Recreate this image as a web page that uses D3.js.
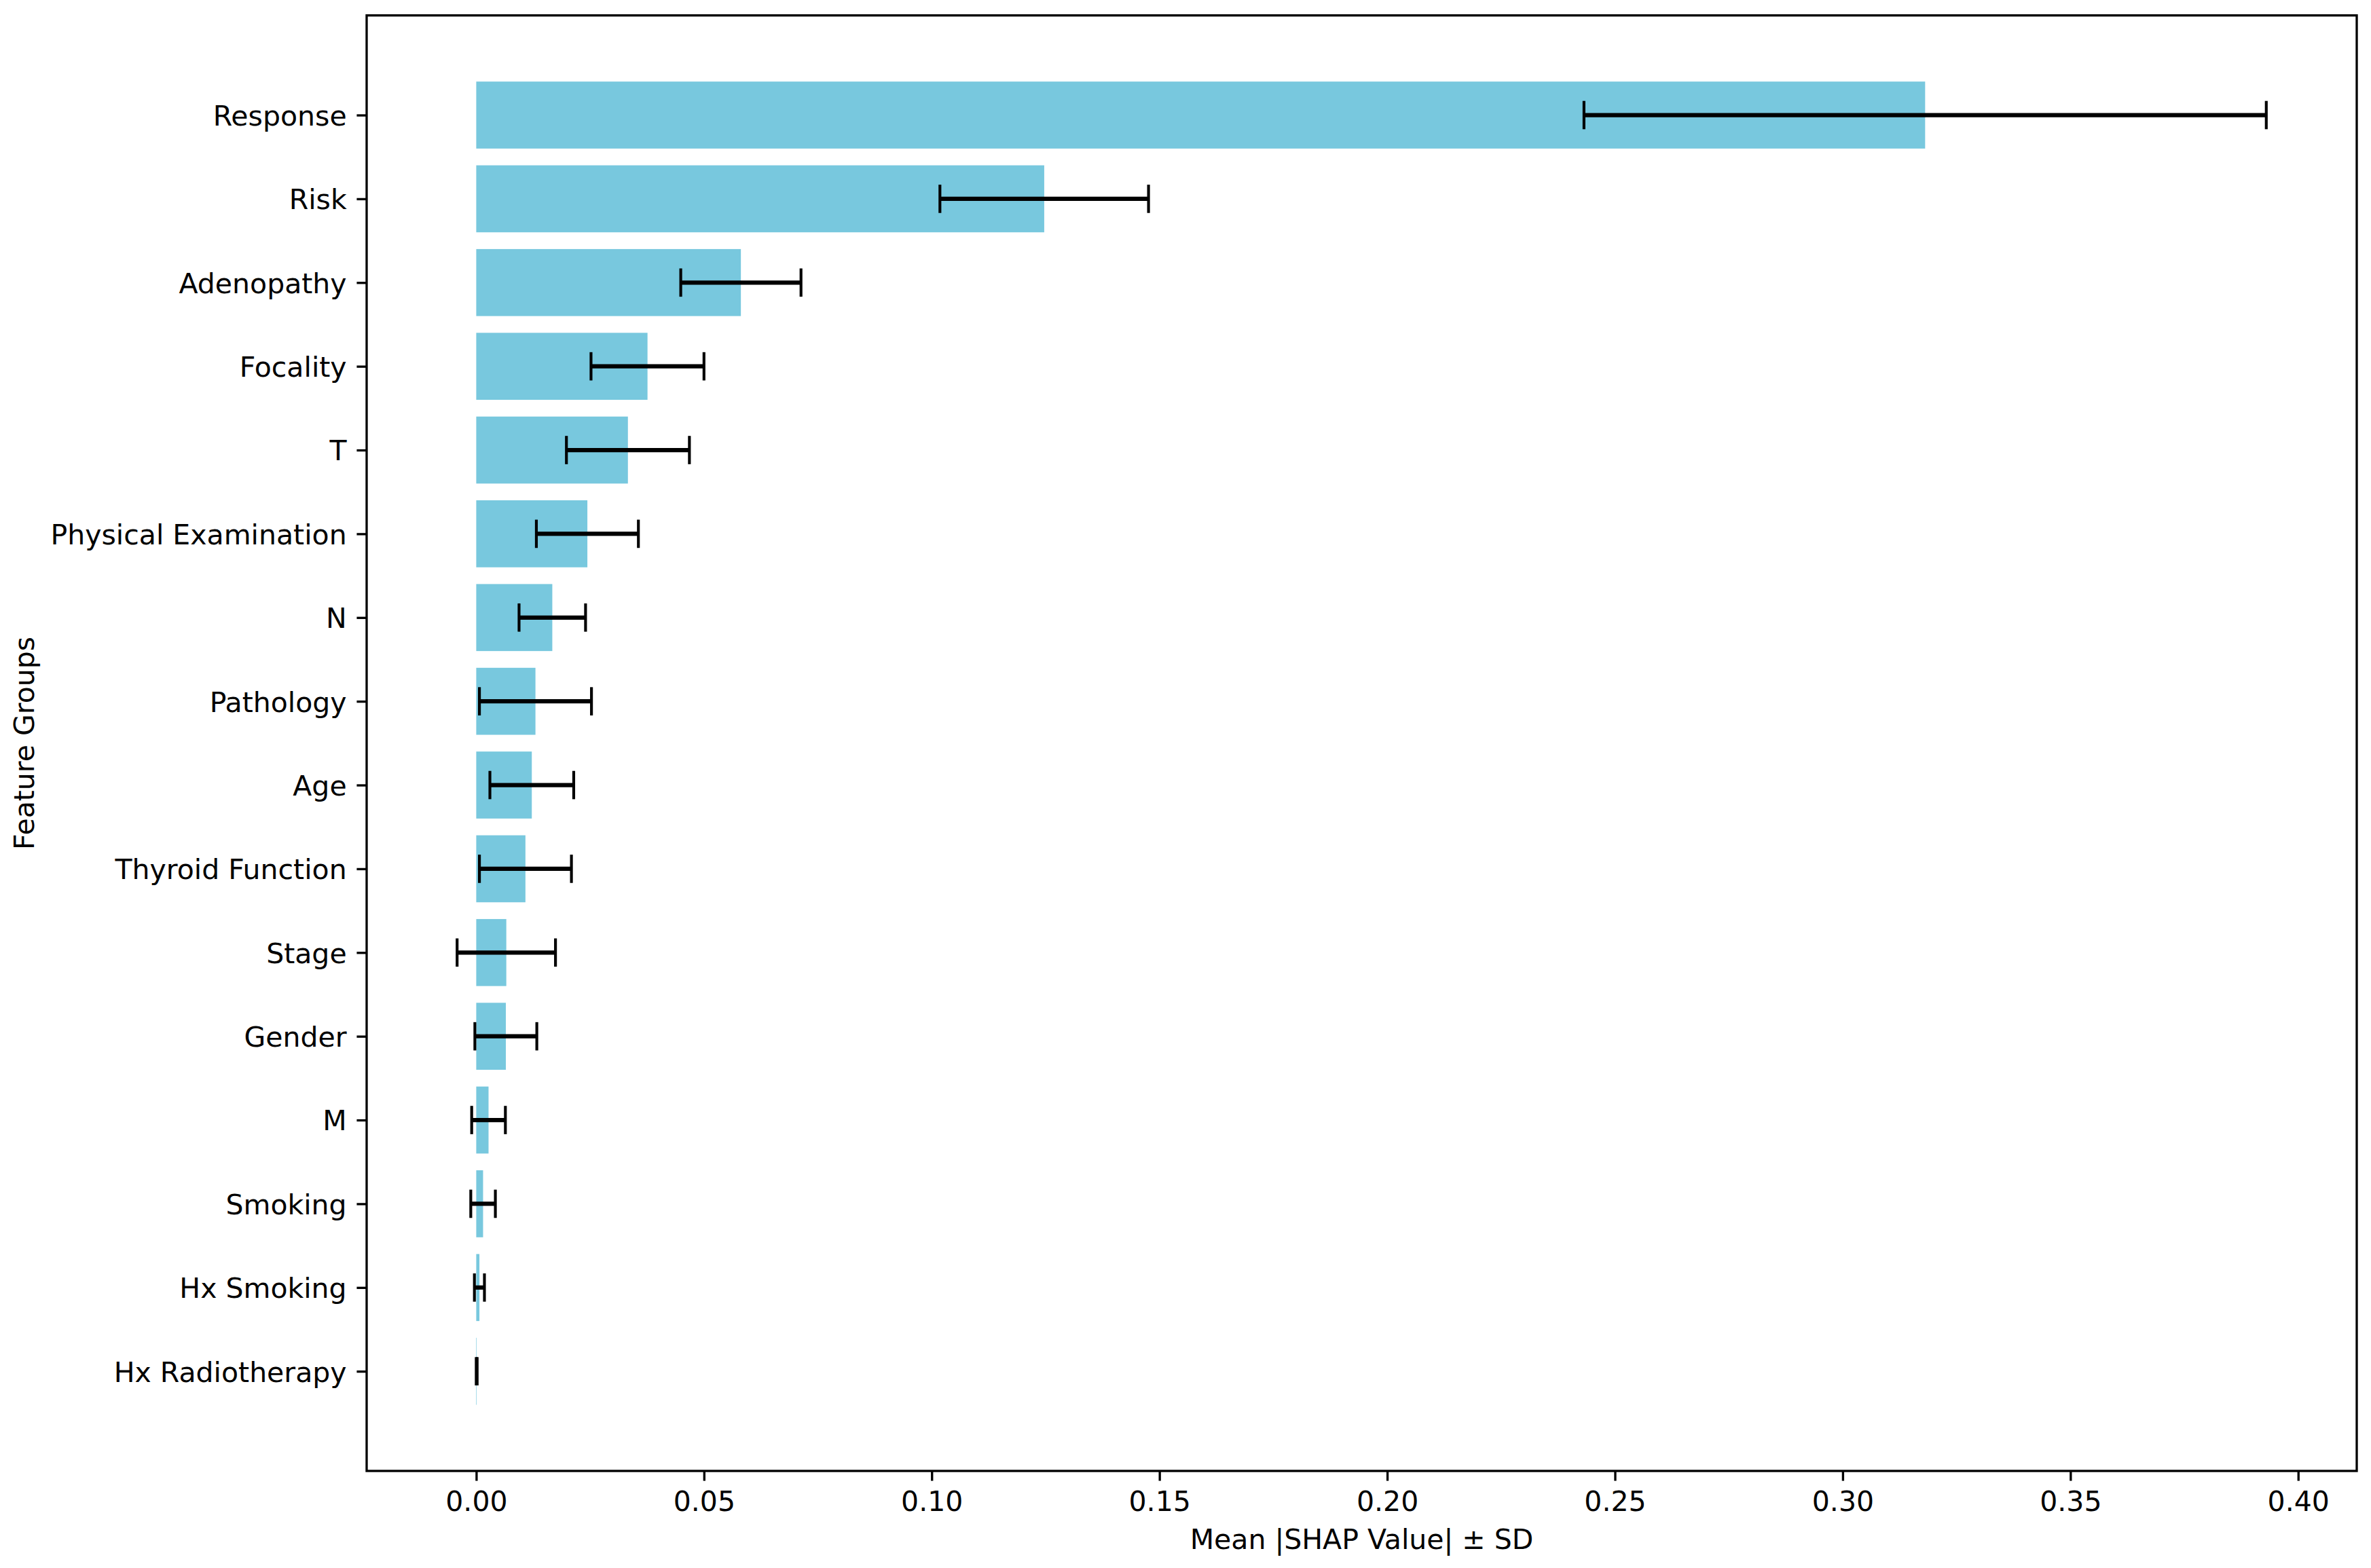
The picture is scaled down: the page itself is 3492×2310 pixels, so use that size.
<!DOCTYPE html>
<html>
<head>
<meta charset="utf-8">
<script src="https://cdn.jsdelivr.net/npm/d3@7"></script>
<style>
  body { margin: 0; background: #fff; }
  svg { display: block; }
</style>
</head>
<body>
<div id="chart"></div>
<script>
// feature groups, top to bottom
const features = [
  "Response", "Risk", "Adenopathy", "Focality", "T", "Physical Examination",
  "N", "Pathology", "Age", "Thyroid Function", "Stage", "Gender", "M",
  "Smoking", "Hx Smoking", "Hx Radiotherapy"
];
const meanShap = [
  0.3181, 0.1247, 0.0581, 0.0376, 0.0333, 0.0244, 0.0167, 0.0130,
  0.0122, 0.0108, 0.0066, 0.0065, 0.0027, 0.0015, 0.0007, 0.0001
];
const sdShap = [
  0.0749, 0.0229, 0.0132, 0.0124, 0.0135, 0.0112, 0.0073, 0.0123,
  0.0092, 0.0101, 0.0108, 0.0068, 0.0037, 0.0027, 0.0011, 0.0001
];
const xTicks = [0, 0.05, 0.10, 0.15, 0.20, 0.25, 0.30, 0.35, 0.40];

const WIDTH = 3492;
const HEIGHT = 2310;
const PT = 300 / 72; // px per point at 300 dpi
const FONT = "'DejaVu Sans', Verdana, sans-serif";
const FONT_SIZE = 41;
const BAR_COLOR = "#78c8de";

const plot = { left: 540, right: 3471, top: 22.7, bottom: 2167 };

const data = features.map((name, i) => ({
  name,
  idx: i,
  mean: meanShap[i],
  sd: sdShap[i]
}));

const svg = d3.select("#chart").append("svg")
  .attr("width", WIDTH)
  .attr("height", HEIGHT)
  .attr("viewBox", [0, 0, WIDTH, HEIGHT]);

svg.append("rect")
  .attr("width", WIDTH)
  .attr("height", HEIGHT)
  .attr("fill", "#fff");

// autoscale like matplotlib: data limits plus 5% margin
const xLo = d3.min(data, d => Math.min(0, d.mean - d.sd));
const xHi = d3.max(data, d => d.mean + d.sd);
const xPad = (xHi - xLo) * 0.05;
const x = d3.scaleLinear()
  .domain([xLo - xPad, xHi + xPad])
  .range([plot.left, plot.right]);

const BAR_H = 0.8;
const yLo = -BAR_H / 2;
const yHi = features.length - 1 + BAR_H / 2;
const yPad = (yHi - yLo) * 0.05;
const y = d3.scaleLinear()
  .domain([yLo - yPad, yHi + yPad])
  .range([plot.top, plot.bottom]);

// bars
svg.append("g")
  .selectAll("rect")
  .data(data)
  .join("rect")
  .attr("x", x(0))
  .attr("y", d => y(d.idx - BAR_H / 2))
  .attr("width", d => x(d.mean) - x(0))
  .attr("height", d => y(d.idx + BAR_H / 2) - y(d.idx - BAR_H / 2))
  .attr("fill", BAR_COLOR);

// error bars
const CAP = 5 * PT;
const err = svg.append("g")
  .attr("stroke", "#000")
  .selectAll("g")
  .data(data)
  .join("g");

err.append("line")
  .attr("x1", d => x(d.mean - d.sd))
  .attr("x2", d => x(d.mean + d.sd))
  .attr("y1", d => y(d.idx))
  .attr("y2", d => y(d.idx))
  .attr("stroke-width", 1.5 * PT);

[d => d.mean - d.sd, d => d.mean + d.sd].forEach(fn => {
  err.append("line")
    .attr("x1", d => x(fn(d)))
    .attr("x2", d => x(fn(d)))
    .attr("y1", d => y(d.idx) - CAP)
    .attr("y2", d => y(d.idx) + CAP)
    .attr("stroke-width", 1 * PT);
});

// axes
const TICK_LEN = 3.5 * PT;

const xAxis = svg.append("g")
  .attr("transform", `translate(0,${plot.bottom})`)
  .call(d3.axisBottom(x)
    .tickValues(xTicks)
    .tickFormat(d3.format(".2f"))
    .tickSize(TICK_LEN)
    .tickPadding(15));

const yAxis = svg.append("g")
  .attr("transform", `translate(${plot.left},0)`)
  .call(d3.axisLeft(y)
    .tickValues(data.map(d => d.idx))
    .tickFormat(i => features[i])
    .tickSize(TICK_LEN)
    .tickPadding(14.8));

[xAxis, yAxis].forEach(a => {
  a.attr("font-family", FONT).attr("font-size", FONT_SIZE);
  a.select(".domain").remove();
  a.selectAll(".tick line").attr("stroke", "#000").attr("stroke-width", 0.8 * PT);
  a.selectAll(".tick text").attr("fill", "#000");
});
yAxis.selectAll(".tick text").attr("dy", "0.364em");

// frame
svg.append("rect")
  .attr("x", plot.left)
  .attr("y", plot.top)
  .attr("width", plot.right - plot.left)
  .attr("height", plot.bottom - plot.top)
  .attr("fill", "none")
  .attr("stroke", "#000")
  .attr("stroke-width", 0.8 * PT);

// axis titles
svg.append("text")
  .attr("x", (plot.left + plot.right) / 2)
  .attr("y", 2282)
  .attr("text-anchor", "middle")
  .attr("font-family", FONT)
  .attr("font-size", FONT_SIZE)
  .attr("fill", "#000")
  .text("Mean |SHAP Value| ± SD");

svg.append("text")
  .attr("transform", `translate(50,${(plot.top + plot.bottom) / 2}) rotate(-90)`)
  .attr("text-anchor", "middle")
  .attr("font-family", FONT)
  .attr("font-size", FONT_SIZE)
  .attr("fill", "#000")
  .text("Feature Groups");
</script>
</body>
</html>
